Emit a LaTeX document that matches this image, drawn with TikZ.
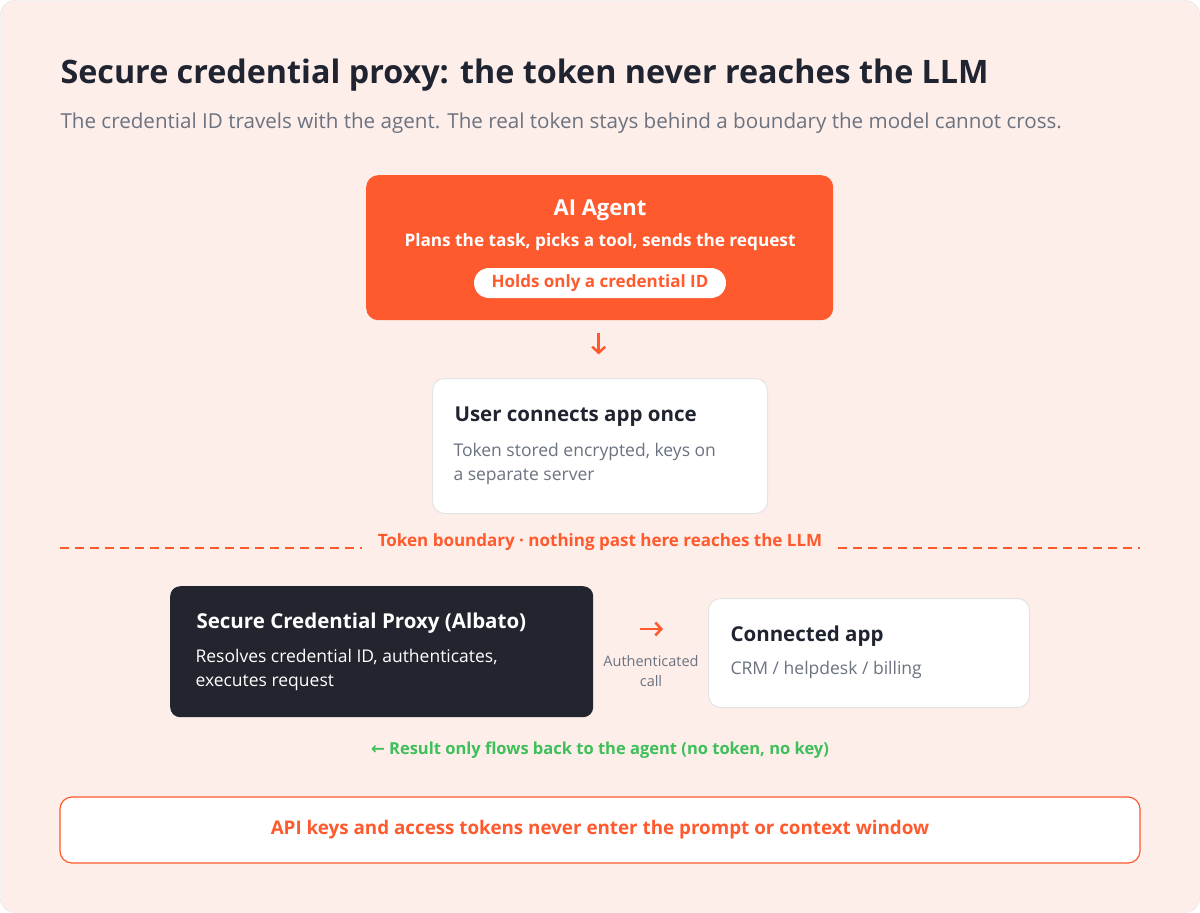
\documentclass[tikz,border=0pt]{standalone}
\usepackage{fontspec}
\setmainfont{Open Sans}
\newfontfamily\symfont{DejaVu Sans}
\usetikzlibrary{positioning,arrows.meta}
\definecolor{bgpeach}{HTML}{FDEEE9}
\definecolor{accent}{HTML}{FF5A2E}
\definecolor{ink}{HTML}{1F2430}
\definecolor{muted}{HTML}{6B7280}
\definecolor{darkbox}{HTML}{22252E}
\definecolor{okgreen}{HTML}{3DBF5A}
\definecolor{edge}{HTML}{E4E4E7}
\tikzset{
  card/.style={draw=edge,line width=1pt,fill=white,rounded corners=12pt,anchor=north west},
  head/.style={font=\fontsize{20.5}{24}\selectfont\bfseries,anchor=west},
  body/.style={font=\fontsize{17.5}{24}\selectfont,anchor=north west,align=left,text=muted},
  flow/.style={-{Straight Barb[length=6pt,width=13pt,line width=2.5pt]},line width=2.5pt,accent}
}
\begin{document}
\begin{tikzpicture}[x=1pt,y=-1pt]
\useasboundingbox (0,0) rectangle (1200,913);
% background
\draw[fill=bgpeach,draw=edge,rounded corners=14pt] (0.5,0.5) rectangle (1199.5,912.5);
\node[anchor=west,text=ink,font=\fontsize{32.3}{36}\selectfont\bfseries] (title) at (57,75) {Secure credential proxy: the token never reaches the LLM};
\node[anchor=west,text=muted,font=\fontsize{20.6}{24}\selectfont] (subtitle) at (57,123) {The credential ID travels with the agent. The real token stays behind a boundary the model cannot cross.};
% agent
\node[fill=accent,rounded corners=12pt,minimum width=467pt,minimum height=145pt,anchor=north west] (agent) at (366,175) {};
\node[text=white,font=\fontsize{22}{24}\selectfont\bfseries] (agentname) at (600,210) {AI Agent};
\node[text=white,font=\fontsize{17.2}{20}\selectfont\bfseries] (agenttask) at (600,242) {Plans the task, picks a tool, sends the request};
\node[fill=white,rounded corners=15pt,minimum width=252pt,minimum height=30pt,text=accent,font=\fontsize{17}{20}\selectfont\bfseries] (pill) at (600,283) {Holds only a credential ID};
% user
\node[card,minimum width=335pt,minimum height=135pt] (user) at (432,378) {};
\node[head,text=ink] (userhead) at (451,417) {User connects app once};
\node[body] (userbody) at (450,440) {Token stored encrypted, keys on\\a separate server};
\draw[flow] ([xshift=-1pt]agent.south) ++(0,13) coordinate (a1) -- ++(0,21) coordinate (a2);
% boundary
\coordinate (bl) at (60,548);
\coordinate (br) at (1140,548);
\node[text=accent,font=\fontsize{17}{20}\selectfont\bfseries,fill=bgpeach,inner xsep=16pt] (boundary) at (600,542) {Token boundary · nothing past here reaches the LLM};
\draw[accent,line width=1.5pt,dash pattern=on 9pt off 6pt] (bl) -- (boundary.west |- bl);
\draw[accent,line width=1.5pt,dash pattern=on 9pt off 6pt] (boundary.east |- br) -- (br);
% proxy
\node[fill=darkbox,rounded corners=10pt,minimum width=423pt,minimum height=131pt,anchor=north west] (proxy) at (170,586) {};
\node[head,text=white] (proxyhead) at (193,623) {Secure Credential Proxy (Albato)};
\node[body,text=white] (proxybody) at (192,646) {Resolves credential ID, authenticates,\\executes request};
% app
\node[card,minimum width=321pt,minimum height=109pt] (app) at (708,598) {};
\node[head,text=ink] (apphead) at (727,636) {Connected app};
\node[body] (appbody) at (727,658) {CRM / helpdesk / billing};
\coordinate (c1) at (640,629);
\coordinate (c2) at (663,629);
\draw[flow] (c1) -- (c2);
\node[text=muted,font=\fontsize{14.5}{20}\selectfont,align=center] (calllabel) at (651,671) {Authenticated\\call};
% result
\node[text=okgreen,font=\fontsize{16.5}{20}\selectfont\bfseries] (result) at (600,750) {{\symfont ←} Result only flows back to the agent (no token, no key)};
\node[draw=accent,line width=1.2pt,fill=white,rounded corners=12pt,minimum width=1080pt,minimum height=66pt,text=accent,font=\fontsize{18.8}{22}\selectfont\bfseries] (note) at (600,830) {API keys and access tokens never enter the prompt or context window};
\end{tikzpicture}
\end{document}
